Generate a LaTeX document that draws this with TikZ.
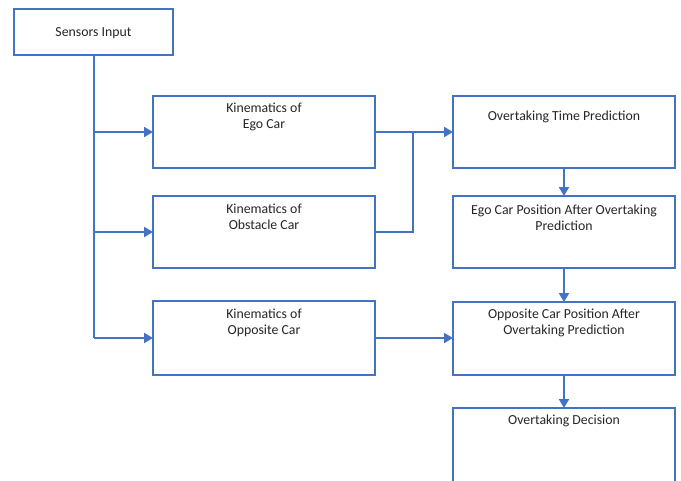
\documentclass[tikz,border=0pt]{standalone}
\usepackage{fontspec}
\setmainfont{Carlito}
\usetikzlibrary{arrows.meta}
\definecolor{boxblue}{HTML}{4472C4}
\definecolor{txt}{HTML}{262626}
\begin{document}
\begin{tikzpicture}[x=1pt,y=-1pt,
  box/.style={draw=boxblue,line width=1.1pt,fill=white,inner sep=0pt,outer sep=0pt,anchor=north west},
  lbl/.style={font=\fontsize{13.8}{16}\selectfont,text=txt,align=center,inner sep=0pt,anchor=center},
  conn/.style={draw=boxblue,line width=2pt},
  arr/.style={conn,-{Triangle[length=9pt,width=10pt]}}]
\useasboundingbox (0,0) rectangle (681,480);
\node[box,minimum width=159pt,minimum height=46pt] (sens) at (14,9) {};
\node[lbl] (sensT) at (93.5,33) {Sensors Input};
\node[box,minimum width=222pt,minimum height=72pt] (ego) at (153,96) {};
\node[lbl] (egoT) at (264,117) {Kinematics of\\Ego Car};
\node[box,minimum width=222pt,minimum height=72pt] (obs) at (153,196) {};
\node[lbl] (obsT) at (264,217) {Kinematics of\\Obstacle Car};
\node[box,minimum width=222pt,minimum height=74pt] (opp) at (153,301) {};
\node[lbl] (oppT) at (264,323) {Kinematics of\\Opposite Car};
\node[box,minimum width=222pt,minimum height=72pt] (otp) at (453,96) {};
\node[lbl] (otpT) at (564,117) {Overtaking Time Prediction};
\node[box,minimum width=222pt,minimum height=72pt] (ecp) at (453,196) {};
\node[lbl] (ecpT) at (564,217.5) {Ego Car Position After Overtaking\\Prediction};
\node[box,minimum width=222pt,minimum height=73pt] (ocp) at (453,302) {};
\node[lbl] (ocpT) at (564,323) {Opposite Car Position After\\Overtaking Prediction};
\node[box,minimum width=222pt,minimum height=90pt] (dec) at (453,408) {};
\node[lbl] (decT) at (564,421) {Overtaking Decision};
\coordinate (trunkTop) at (94,55);
\coordinate (j1) at (94,132);
\coordinate (j2) at (94,232);
\coordinate (j3) at (94,338);
\coordinate (m1) at (413,132);
\coordinate (m2) at (413,232);
\draw[conn] (trunkTop) -- (j3);
\draw[arr] (j1) -- (j1 -| ego.west);
\draw[arr] (j2) -- (j2 -| obs.west);
\draw[arr] (j3) -- (j3 -| opp.west);
\draw[arr] (j1 -| ego.east) -- (j1 -| otp.west);
\draw[conn] (j2 -| obs.east) -- (m2) -- (m1);
\draw[arr] (j3 -| opp.east) -- (j3 -| ocp.west);
\draw[arr] (otp.south) -- (ecp.north);
\draw[arr] (ecp.south) -- (ocp.north);
\draw[arr] (ocp.south) -- (dec.north);
\end{tikzpicture}
\end{document}
